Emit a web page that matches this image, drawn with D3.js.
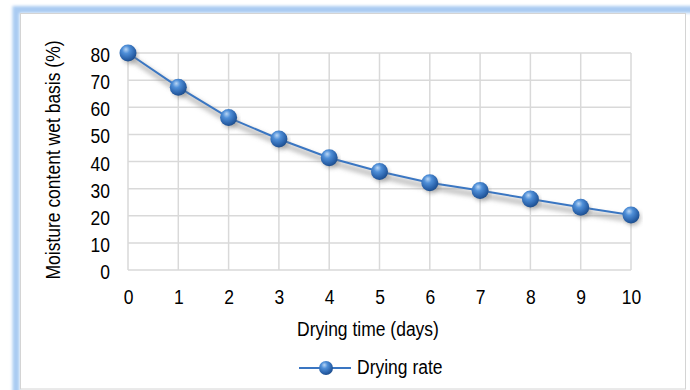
<!DOCTYPE html>
<html><head><meta charset="utf-8">
<script src="https://cdn.jsdelivr.net/npm/d3@7"></script>
<style>body{margin:0;background:#fff}svg{display:block}text{font-family:"Liberation Sans",Arial,sans-serif;fill:#000}</style>
</head><body>
<svg id="c" width="690" height="390"></svg>
<script>
const days = [0,1,2,3,4,5,6,7,8,9,10];
const moisture = [80,67.4,56.2,48.3,41.4,36.3,32.2,29.3,26.2,23.1,20.3];
const yTicks = [0,10,20,30,40,50,60,70,80];
const seriesName = "Drying rate";
const xTitle = "Drying time (days)";
const yTitle = "Moisture content wet basis (%)";

const FS = 17.5, SY = 1.2;
const svg = d3.select("#c");
const defs = svg.append("defs");
const glow = defs.append("filter").attr("id","glow").attr("x","-5%").attr("y","-5%").attr("width","110%").attr("height","110%");
glow.append("feGaussianBlur").attr("stdDeviation",1.5);
const sh = defs.append("filter").attr("id","sh").attr("x","-10%").attr("y","-30%").attr("width","120%").attr("height","160%");
sh.append("feGaussianBlur").attr("stdDeviation",2);
const rg = defs.append("radialGradient").attr("id","ball").attr("cx","40%").attr("cy","35%").attr("r","65%").attr("fx","38%").attr("fy","28%");
rg.append("stop").attr("offset","0%").attr("stop-color","#b9d6f5");
rg.append("stop").attr("offset","35%").attr("stop-color","#4f8fd8");
rg.append("stop").attr("offset","80%").attr("stop-color","#2a62aa");
rg.append("stop").attr("offset","100%").attr("stop-color","#1e4f8f");

// frame
svg.append("rect").attr("x",16).attr("y",9.5).attr("width",680).attr("height",400).attr("fill","none").attr("stroke","#a9cbf2").attr("stroke-width",7).attr("filter","url(#glow)");
svg.append("rect").attr("x",20.5).attr("y",13.5).attr("width",665).attr("height",375.5).attr("fill","#fff").attr("stroke","#d4d4d4").attr("stroke-width",1);

const x = d3.scaleLinear().domain([0,10]).range([128,631]);
const y = d3.scaleLinear().domain([0,80]).range([270,53]);

// gridlines
svg.append("g").selectAll("line").data(yTicks).join("line").attr("x1",x(0)).attr("x2",x(10)).attr("y1",d=>y(d)).attr("y2",d=>y(d)).attr("stroke","#d9d9d9").attr("stroke-width",1.5);
svg.append("g").selectAll("line").data(days).join("line").attr("y1",y(0)).attr("y2",y(80)).attr("x1",d=>x(d)).attr("x2",d=>x(d)).attr("stroke","#d9d9d9").attr("stroke-width",1.5);

// axis labels via d3 axes, then stretched vertically
const ya = d3.axisLeft(y).tickValues(yTicks).tickSize(0).tickPadding(0);
const yg = svg.append("g").attr("transform","translate(110,0)").call(ya);
yg.select(".domain").remove();
yg.attr("font-family",null).attr("font-size",null);
yg.selectAll("text").style("font-size",FS+"px").attr("dy",null).attr("y",0).attr("x",0)
  .attr("transform",`translate(0,8.5) scale(1,${SY})`).attr("fill","#000");
const xa = d3.axisBottom(x).tickValues(days).tickSize(0).tickPadding(0);
const xg = svg.append("g").attr("transform","translate(0,303.5)").call(xa);
xg.select(".domain").remove();
xg.attr("font-family",null).attr("font-size",null);
xg.selectAll("text").style("font-size",FS+"px").attr("dy",null).attr("y",0)
  .attr("transform",`scale(1,${SY})`).attr("fill","#000");

svg.append("text").attr("transform",`translate(368,336) scale(1,${SY})`).attr("text-anchor","middle").style("font-size",FS+"px").text(xTitle);
svg.append("text").attr("transform",`translate(60,160) rotate(-90) scale(1,${SY})`).attr("text-anchor","middle").style("font-size",FS+"px").text(yTitle);

// line
const line = d3.line().x((d,i)=>x(days[i])).y(d=>y(d));
svg.append("path").datum(moisture).attr("d",line).attr("fill","none").attr("stroke","#999").attr("stroke-opacity",0.55).attr("stroke-width",6).attr("transform","translate(3,5)").attr("filter","url(#sh)");
svg.append("path").datum(moisture).attr("d",line).attr("fill","none").attr("stroke","#3a76c2").attr("stroke-width",2);
svg.selectAll(".shb").data(moisture).join("circle").attr("cx",(d,i)=>x(days[i])+2).attr("cy",d=>y(d)+3).attr("r",8).attr("fill","#777").attr("opacity",0.45).attr("filter","url(#sh)");
svg.selectAll(".pt").data(moisture).join("circle").attr("cx",(d,i)=>x(days[i])).attr("cy",d=>y(d)).attr("r",8.5).attr("fill","url(#ball)");

// legend
const ly = 368;
svg.append("line").attr("x1",299).attr("x2",351).attr("y1",ly).attr("y2",ly).attr("stroke","#3a76c2").attr("stroke-width",2);
svg.append("circle").attr("cx",326).attr("cy",ly).attr("r",7).attr("fill","url(#ball)");
svg.append("text").attr("transform",`translate(357,374) scale(1,${SY})`).style("font-size",FS+"px").text(seriesName);
</script>
</body></html>
